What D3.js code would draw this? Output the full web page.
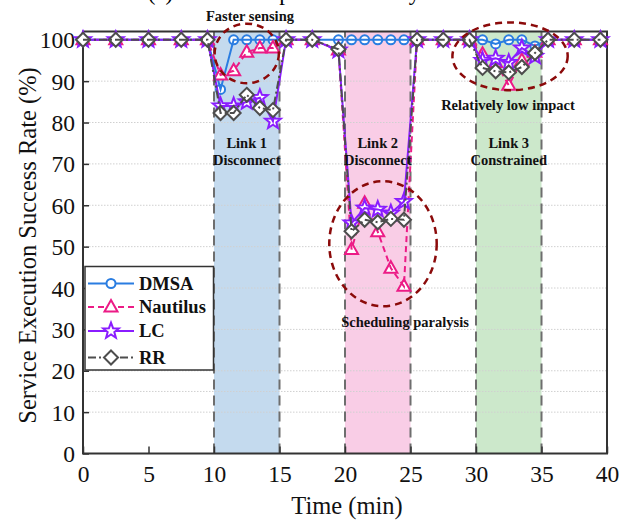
<!DOCTYPE html>
<html><head><meta charset="utf-8">
<script src="https://cdn.jsdelivr.net/npm/d3@7/dist/d3.min.js"></script>
<style>body{margin:0;background:#fff}svg{display:block}</style>
</head><body>
<script>
// ---- data ----
const times = [0,2.5,5,7.5,9.5, 10.5,11.5,12.5,13.5,14.5, 15.5,17.5,19.5, 20.5,21.5,22.5,23.5,24.5, 25.5,27.5,29.5, 30.5,31.5,32.5,33.5,34.5, 35.5,37.5,39.5];
const dmsa     = [100,100,100,100,100, 88,100,100,100,100, 100,100,100, 100,100,100,100,100, 100,100,100, 100,99,100,100,98.5, 100,100,100];
const nautilus = [100,100,100,100,100, 91.5,92.5,97,98,98, 100,100,97.5, 49.3,60.5,53.6,44.8,40.4, 100,100,100, 96.5,94.5,89,95,97, 100,100,100];
const lc       = [100,100,100,100,100, 84,84,85,86,80.3, 100,100,97.5, 55.7,59.3,59,58.1,60.9, 100,100,100, 95,95.5,94.5,98,96, 100,100,100];
const rr       = [100,100,100,100,100, 82.3,82.3,86.7,83.5,83, 100,100,97.7, 53.7,56.5,55.9,56.7,56.5, 100,100,100, 93.2,92.4,92.1,93.4,96.8, 100,100,100];
const seriesNames = ["DMSA","Nautilus","LC","RR"];
const xTicks = [0,5,10,15,20,25,30,35,40];
const yTicks = [0,10,20,30,40,50,60,70,80,90,100];
const gridValues = [10,15,20,30,40,50,60,70,80,90];
const regionStarts = [10,20,30];
const regionEnds = [15,25,35];
const regionLine1 = ["Link 1","Link 2","Link 3"];
const regionLine2 = ["Disconnect","Disconnect","Constrained"];
const boundaries = [10,15,20,25,30,35];

// ---- layout ----
const W = 621, H = 524;
const svg = d3.select("body").append("svg").attr("width", W).attr("height", H);
const x = d3.scaleLinear().domain([0,40]).range([83,607]);
const y = d3.scaleLinear().domain([0,102]).range([453.5,31.5]);
const serif = "'Liberation Serif','Times New Roman',serif";

// title (cut off at top, as in the original)
svg.append("text").attr("x", 284).attr("y", 0).attr("text-anchor","middle")
  .attr("font-family", serif).attr("font-size", 23).text("(a) Link Disruption Recovery");

// shaded regions
const regionColors = ["#c4daee","#f9cde6","#cce8cb"];
svg.append("g").selectAll("rect").data(regionStarts).join("rect")
  .attr("x", d => x(d)).attr("width", (d,i) => x(regionEnds[i]) - x(d))
  .attr("y", y(102)).attr("height", y(0) - y(102))
  .attr("fill", (d,i) => regionColors[i]);

// grid
svg.append("g").selectAll("line").data(gridValues).join("line")
  .attr("x1", x(0)).attr("x2", x(40)).attr("y1", d => y(d)).attr("y2", d => y(d))
  .attr("stroke", "#d0d0d0").attr("stroke-width", 1).attr("stroke-dasharray", "1.5,1.5");

// vertical boundaries
svg.append("g").selectAll("line").data(boundaries).join("line")
  .attr("x1", d => x(d)).attr("x2", d => x(d)).attr("y1", y(0)).attr("y2", y(102))
  .attr("stroke", "#6e6e6e").attr("stroke-width", 2).attr("stroke-dasharray", "10,6");

// axes
const axG = svg.append("g").attr("font-family", serif);
const xAxis = d3.axisBottom(x).tickValues(xTicks).tickSize(-7).tickPadding(12).tickFormat(d3.format("d"));
const yAxis = d3.axisLeft(y).tickValues(yTicks).tickSize(-6).tickPadding(8).tickFormat(d3.format("d"));
const gx = axG.append("g").attr("transform", `translate(0,${y(0)})`).call(xAxis);
const gy = axG.append("g").attr("transform", `translate(${x(0)},0)`).call(yAxis);
[gx, gy].forEach(g => {
  g.select(".domain").remove();
  g.selectAll(".tick line").attr("stroke", "#333").attr("stroke-width", 1.5);
  g.selectAll(".tick text").attr("font-size", 23.5).attr("fill", "#111").attr("font-family", serif);
});
gx.selectAll(".tick text").attr("dy", "0.71em");
gy.selectAll(".tick text").attr("dy", "0.34em");
// frame
svg.append("rect").attr("x", x(0)).attr("y", y(102)).attr("width", x(40)-x(0)).attr("height", y(0)-y(102))
  .attr("fill", "none").attr("stroke", "#333").attr("stroke-width", 2);

// axis titles
svg.append("text").attr("x", 347).attr("y", 514).attr("text-anchor","middle")
  .attr("font-family", serif).attr("font-size", 24.5).attr("fill","#111").text("Time (min)");
svg.append("text").attr("transform", `translate(36,${(y(0)+y(102))/2 + 3}) rotate(-90)`)
  .attr("text-anchor","middle").attr("font-family", serif).attr("font-size", 24.5).attr("fill","#111")
  .text("Service Execution Success Rate (%)");

// ---- series ----
const starPath = (ro, ri) => {
  const p = [];
  for (let k = 0; k < 10; k++) {
    const r = k % 2 ? ri : ro, a = -Math.PI/2 + k*Math.PI/5;
    p.push([r*Math.cos(a), r*Math.sin(a)]);
  }
  return "M" + p.map(q => q.join(",")).join("L") + "Z";
};
const symbols = {
  DMSA: d3.symbol(d3.symbolCircle, 64)(),
  Nautilus: "M0,-7L6.5,4.5L-6.5,4.5Z",
  LC: starPath(8.3, 3.5),
  RR: "M0,-7L7,0L0,7L-7,0Z"
};
const styles = {
  DMSA: {color:"#2a7de1", dash:null},
  Nautilus: {color:"#ec1b86", dash:"6,4"},
  LC: {color:"#8a1cff", dash:null},
  RR: {color:"#4d4d4d", dash:"8,3,2,3"}
};
const allValues = {DMSA: dmsa, Nautilus: nautilus, LC: lc, RR: rr};
const line = d3.line().x(d => x(d[0])).y(d => y(d[1]));

seriesNames.forEach(name => {
  const pts = times.map((t,i) => [t, allValues[name][i]]);
  const st = styles[name];
  const g = svg.append("g");
  g.selectAll("path.m").data(pts).join("path").attr("class","m")
    .attr("d", symbols[name]).attr("transform", d => `translate(${x(d[0])},${y(d[1])})`)
    .attr("fill", "#fff").attr("stroke", st.color).attr("stroke-width", 2);
  g.append("path").datum(pts).attr("d", line).attr("fill","none")
    .attr("stroke", st.color).attr("stroke-width", 2)
    .attr("stroke-dasharray", st.dash);
});

// ---- annotations ----
const ellipseCx = [12.5, 22.9, 32.6];
const ellipseCy = [96.7, 50.7, 96.0];
const ellipseRx = [2.45, 4.1, 4.4];
const ellipseRy = [7.2, 15.1, 8.2];
svg.append("g").selectAll("ellipse").data(ellipseCx).join("ellipse")
  .attr("cx", d => x(d)).attr("cy", (d,i) => y(ellipseCy[i]))
  .attr("rx", (d,i) => x(ellipseRx[i]) - x(0)).attr("ry", (d,i) => y(0) - y(ellipseRy[i]))
  .attr("fill","none").attr("stroke","#8b0a0a").attr("stroke-width", 2.5).attr("stroke-dasharray","7,5");

const ann = svg.append("g").attr("font-family", serif).attr("font-weight","bold")
  .attr("font-size", 14.5).attr("fill","#111").attr("text-anchor","middle");
ann.append("text").attr("x", 250).attr("y", 21).text("Faster sensing");
ann.append("text").attr("x", 508).attr("y", 110).text("Relatively low impact");
ann.append("text").attr("x", 405).attr("y", 327).text("Scheduling paralysis");
regionStarts.forEach((s,i) => {
  const cx = x((s + regionEnds[i]) / 2);
  ann.append("text").attr("x", cx).attr("y", 148).text(regionLine1[i]);
  ann.append("text").attr("x", cx).attr("y", 165).text(regionLine2[i]);
});

// ---- legend ----
const lg = svg.append("g");
lg.append("rect").attr("x", 85).attr("y", 266.5).attr("width", 128.5).attr("height", 103.5)
  .attr("fill","#fff").attr("stroke","#333").attr("stroke-width",1.5);
const legY = [283.5, 307, 331, 357.5];
seriesNames.forEach((name,i) => {
  const st = styles[name];
  lg.append("line").attr("x1", 88).attr("x2", 134).attr("y1", legY[i]).attr("y2", legY[i])
    .attr("stroke", st.color).attr("stroke-width", 2).attr("stroke-dasharray", st.dash);
  lg.append("path").attr("d", symbols[name]).attr("transform", `translate(111,${legY[i]})`)
    .attr("fill","#fff").attr("stroke", st.color).attr("stroke-width", 2);
  lg.append("text").attr("x", 139).attr("y", legY[i]).attr("dy","0.35em")
    .attr("font-family", serif).attr("font-weight","bold").attr("font-size", 18.5).attr("fill","#111")
    .text(name);
});
</script>
</body></html>
